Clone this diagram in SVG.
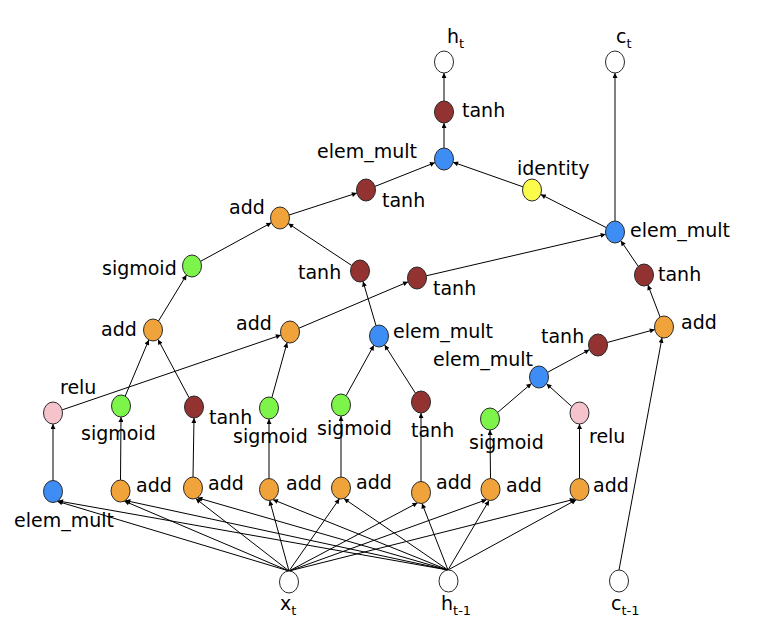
<svg xmlns="http://www.w3.org/2000/svg" width="770" height="626" viewBox="0 0 770 626">
<style>
text{font-family:"DejaVu Sans","Liberation Sans",sans-serif;font-size:19px;fill:#000}
.n{stroke:#2a2a2a;stroke-width:1}
.w{fill:#fff}.b{fill:#3d8df5}.o{fill:#f0a33a}.g{fill:#7cf449}.r{fill:#933331}.p{fill:#f4c3cc}.y{fill:#fbfb4c}
#edges line{stroke:#000;stroke-width:1;marker-end:url(#ah)}
.s{font-size:13px}
</style>
<defs>
<marker id="ah" viewBox="0 0 10 10" refX="10" refY="5" markerWidth="7" markerHeight="5" markerUnits="userSpaceOnUse" orient="auto">
<path d="M0,0 L10,5 L0,10 z" fill="#000"/>
</marker>
</defs>
<rect width="770" height="626" fill="#fff"/>
<g id="edges">
<line x1="444" y1="101" x2="444" y2="73"/>
<line x1="444" y1="148" x2="444" y2="123"/>
<line x1="375" y1="186.4" x2="435" y2="162.6"/>
<line x1="522.9" y1="186.8" x2="453.1" y2="162.2"/>
<line x1="606.3" y1="227.6" x2="540.7" y2="194.4"/>
<line x1="615" y1="221" x2="615" y2="73"/>
<line x1="289.1" y1="215" x2="356.9" y2="193"/>
<line x1="200.6" y1="261.3" x2="271.4" y2="222.7"/>
<line x1="351.8" y1="265.5" x2="288.2" y2="223.5"/>
<line x1="376" y1="325.6" x2="363" y2="281.4"/>
<line x1="298.9" y1="328.2" x2="408.1" y2="281.8"/>
<line x1="426.3" y1="275.8" x2="605.7" y2="234.2"/>
<line x1="638.2" y1="266.3" x2="620.8" y2="240.7"/>
<line x1="660.1" y1="317" x2="647.9" y2="285"/>
<line x1="607.2" y1="342.5" x2="654.8" y2="329.5"/>
<line x1="619" y1="570" x2="662" y2="337.8"/>
<line x1="547.6" y1="372.3" x2="589.4" y2="349.7"/>
<line x1="497.6" y1="412.5" x2="531.4" y2="383.5"/>
<line x1="571.5" y1="406.3" x2="546.5" y2="383.8"/>
<line x1="158.5" y1="321" x2="186.5" y2="275"/>
<line x1="125.2" y1="396.1" x2="148.8" y2="339.9"/>
<line x1="189" y1="397.6" x2="158" y2="339.4"/>
<line x1="62.1" y1="409.9" x2="280.9" y2="335.1"/>
<line x1="271.9" y1="397.5" x2="287.1" y2="342.5"/>
<line x1="346.1" y1="395.7" x2="373.9" y2="345.3"/>
<line x1="415.4" y1="393.1" x2="384.6" y2="344.9"/>
<line x1="53" y1="480" x2="53" y2="424"/>
<line x1="120.5" y1="480" x2="121" y2="417"/>
<line x1="193" y1="477" x2="194" y2="418"/>
<line x1="269" y1="478.5" x2="269" y2="419"/>
<line x1="341" y1="477" x2="341" y2="416"/>
<line x1="421" y1="481.5" x2="421" y2="413"/>
<line x1="490.5" y1="478.5" x2="490" y2="430"/>
<line x1="579.5" y1="478.5" x2="579.5" y2="424"/>
<line x1="289" y1="571" x2="57.3" y2="501.3"/>
<line x1="289" y1="571" x2="124.3" y2="501.1"/>
<line x1="289" y1="571" x2="195.7" y2="498.6"/>
<line x1="289" y1="571" x2="269.7" y2="500.5"/>
<line x1="289" y1="571" x2="339.4" y2="498.8"/>
<line x1="289" y1="571" x2="417.6" y2="502.8"/>
<line x1="289" y1="571" x2="486.7" y2="499.6"/>
<line x1="289" y1="571" x2="574.9" y2="499.1"/>
<line x1="448" y1="570" x2="58" y2="500.9"/>
<line x1="448" y1="570" x2="125.3" y2="500.5"/>
<line x1="448" y1="570" x2="197.4" y2="497.8"/>
<line x1="448" y1="570" x2="272.9" y2="499.6"/>
<line x1="448" y1="570" x2="343.9" y2="498.5"/>
<line x1="448" y1="570" x2="422" y2="503.4"/>
<line x1="448" y1="570" x2="489.1" y2="500.4"/>
<line x1="448" y1="570" x2="576.2" y2="499.8"/>
</g>
<g id="h_t"><ellipse class="n w" cx="444" cy="62" rx="9.5" ry="11"/><text x="447" y="43">h<tspan class="s" dy="5">t</tspan></text></g>
<g id="c_t"><ellipse class="n w" cx="615" cy="62" rx="9.5" ry="11"/><text x="616" y="43">c<tspan class="s" dy="5">t</tspan></text></g>
<g id="tanh_out"><ellipse class="n r" cx="444" cy="112" rx="9.5" ry="11"/><text x="462" y="117">tanh</text></g>
<g id="mult_out"><ellipse class="n b" cx="444" cy="159" rx="9.5" ry="11"/><text x="317" y="158">elem_mult</text></g>
<g id="tanh_a"><ellipse class="n r" cx="366" cy="190" rx="9.5" ry="11"/><text x="382" y="207">tanh</text></g>
<g id="identity"><ellipse class="n y" cx="532" cy="190" rx="9.5" ry="11"/><text x="517" y="175">identity</text></g>
<g id="mult_c"><ellipse class="n b" cx="615" cy="232" rx="9.5" ry="11"/><text x="630" y="237">elem_mult</text></g>
<g id="add_a"><ellipse class="n o" cx="280" cy="218" rx="9.5" ry="11"/><text x="229" y="214">add</text></g>
<g id="sig_a"><ellipse class="n g" cx="192" cy="266" rx="9.5" ry="11"/><text x="102" y="275">sigmoid</text></g>
<g id="tanh_b"><ellipse class="n r" cx="360" cy="271" rx="9.5" ry="11"/><text x="298" y="279">tanh</text></g>
<g id="tanh_c"><ellipse class="n r" cx="417" cy="278" rx="9.5" ry="11"/><text x="433" y="295">tanh</text></g>
<g id="tanh_d"><ellipse class="n r" cx="644" cy="275" rx="9.5" ry="11"/><text x="658" y="281">tanh</text></g>
<g id="add_b"><ellipse class="n o" cx="664" cy="327" rx="9.5" ry="11"/><text x="681" y="329">add</text></g>
<g id="add_c"><ellipse class="n o" cx="153" cy="330" rx="9.5" ry="11"/><text x="101" y="336">add</text></g>
<g id="add_d"><ellipse class="n o" cx="290" cy="332" rx="9.5" ry="11"/><text x="236" y="330">add</text></g>
<g id="mult_a"><ellipse class="n b" cx="379" cy="336" rx="9.5" ry="11"/><text x="393" y="338">elem_mult</text></g>
<g id="tanh_e"><ellipse class="n r" cx="598" cy="345" rx="9.5" ry="11"/><text x="541" y="343">tanh</text></g>
<g id="mult_b"><ellipse class="n b" cx="539" cy="377" rx="9.5" ry="11"/><text x="433" y="366">elem_mult</text></g>
<g id="relu_a"><ellipse class="n p" cx="53" cy="413" rx="9.5" ry="11"/><text x="60" y="394">relu</text></g>
<g id="sig_b"><ellipse class="n g" cx="121" cy="406" rx="9.5" ry="11"/><text x="81" y="440">sigmoid</text></g>
<g id="tanh_f"><ellipse class="n r" cx="194" cy="407" rx="9.5" ry="11"/><text x="209" y="424">tanh</text></g>
<g id="sig_c"><ellipse class="n g" cx="269" cy="408" rx="9.5" ry="11"/><text x="233" y="443">sigmoid</text></g>
<g id="sig_d"><ellipse class="n g" cx="341" cy="405" rx="9.5" ry="11"/><text x="317" y="435">sigmoid</text></g>
<g id="tanh_g"><ellipse class="n r" cx="421" cy="402" rx="9.5" ry="11"/><text x="411" y="437">tanh</text></g>
<g id="sig_e"><ellipse class="n g" cx="490" cy="419" rx="9.5" ry="11"/><text x="469" y="449">sigmoid</text></g>
<g id="relu_b"><ellipse class="n p" cx="579.5" cy="413" rx="9.5" ry="11"/><text x="589" y="443">relu</text></g>
<g id="mult_in"><ellipse class="n b" cx="53" cy="491.5" rx="9.5" ry="11"/><text x="14" y="527">elem_mult</text></g>
<g id="add_1"><ellipse class="n o" cx="120.5" cy="491" rx="9.5" ry="11"/><text x="136" y="492">add</text></g>
<g id="add_2"><ellipse class="n o" cx="193" cy="488" rx="9.5" ry="11"/><text x="208" y="490">add</text></g>
<g id="add_3"><ellipse class="n o" cx="269" cy="489.5" rx="9.5" ry="11"/><text x="286" y="490">add</text></g>
<g id="add_4"><ellipse class="n o" cx="341" cy="488" rx="9.5" ry="11"/><text x="356" y="489">add</text></g>
<g id="add_5"><ellipse class="n o" cx="421" cy="492.5" rx="9.5" ry="11"/><text x="436" y="489">add</text></g>
<g id="add_6"><ellipse class="n o" cx="490.5" cy="489.5" rx="9.5" ry="11"/><text x="506" y="492">add</text></g>
<g id="add_7"><ellipse class="n o" cx="579.5" cy="489.5" rx="9.5" ry="11"/><text x="593" y="492">add</text></g>
<g id="x_t"><ellipse class="n w" cx="289" cy="582" rx="9.5" ry="11"/><text x="280" y="610">x<tspan class="s" dy="5">t</tspan></text></g>
<g id="h_prev"><ellipse class="n w" cx="448.5" cy="581" rx="9.5" ry="11"/><text x="441" y="610">h<tspan class="s" dy="5">t-1</tspan></text></g>
<g id="c_prev"><ellipse class="n w" cx="619" cy="581" rx="9.5" ry="11"/><text x="611" y="610">c<tspan class="s" dy="5">t-1</tspan></text></g>
</svg>
